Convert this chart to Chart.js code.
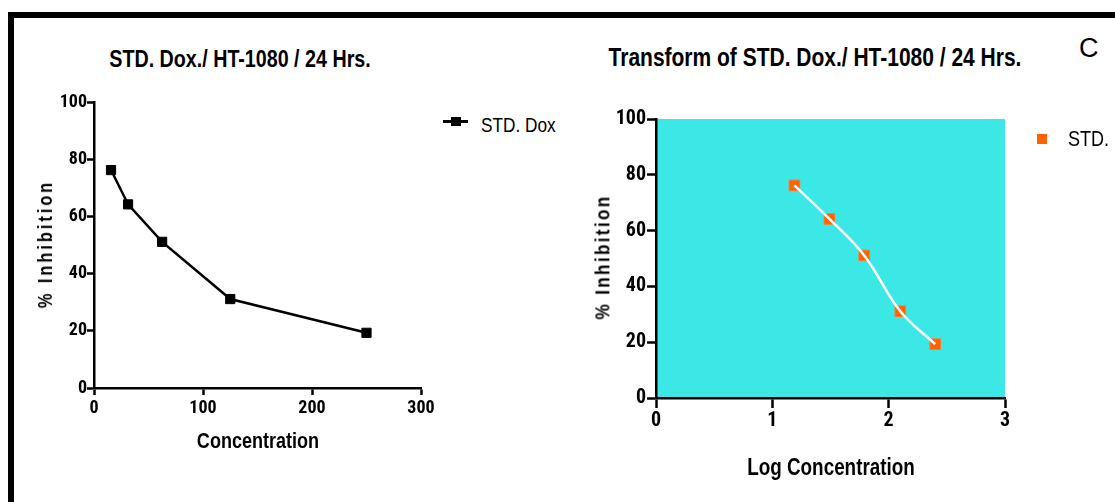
<!DOCTYPE html>
<html>
<head>
<meta charset="utf-8">
<title>STD. Dox / HT-1080</title>
<script src="https://cdn.jsdelivr.net/npm/chart.js@4.4.1/dist/chart.umd.min.js"></script>
<style>
  html, body { margin: 0; padding: 0; background: #fff; }
  #page {
    position: relative; width: 1115px; height: 502px; overflow: hidden;
    font-family: 'Liberation Sans', Arial, sans-serif;
    color: #000;
  }
  .frame {
    position: absolute; left: 8px; top: 12px; right: 0; bottom: 0;
    border-top: 6px solid #000; border-left: 6px solid #000;
  }
  canvas { position: absolute; }
  /* Arial Narrow look: regular Liberation Sans squeezed horizontally */
  .txt {
    position: absolute; white-space: nowrap; line-height: 1.2; font-weight: bold;
    transform: translate(-50%, -50%) scaleX(0.82);
  }
  .vert { transform: translate(-50%, -50%) rotate(-90deg) scaleX(0.82); }
  .legend {
    position: absolute; white-space: nowrap; line-height: 1.2;
    transform-origin: 0 50%; transform: translateY(-50%) scaleX(0.82);
  }
  .sym { position: absolute; }
  .panel-letter {
    position: absolute; left: 1079px; top: 35px; font-size: 27px; line-height: 27px;
  }
</style>
</head>
<body>
<div id="page">
  <div class="frame"></div>

  <div class="txt" style="left:240px; top:59px; font-size:24px;">STD. Dox./ HT-1080 / 24 Hrs.</div>
  <div class="txt" style="left:815px; top:57px; font-size:25.6px;">Transform of STD. Dox./ HT-1080 / 24 Hrs.</div>
  <div class="panel-letter">C</div>

  <canvas id="doseCurve" width="420" height="390" style="left:20px; top:80px;"></canvas>
  <canvas id="logCurve" width="545" height="420" style="left:570px; top:80px;"></canvas>

  <div class="txt vert" style="left:45px; top:244px; font-size:20px; letter-spacing:3.6px;">% Inhibition</div>
  <div class="txt" style="left:258px; top:441px; font-size:22px;">Concentration</div>
  <div class="txt vert" style="left:602px; top:257px; font-size:21px; letter-spacing:2.8px;">% Inhibition</div>
  <div class="txt" style="left:831px; top:468px; font-size:23px;">Log Concentration</div>

  <!-- legends -->
  <div class="sym" style="left:443px; top:120px; width:25px; height:3px; background:#000;"></div>
  <div class="sym" style="left:451px; top:117px; width:10px; height:9px; background:#000;"></div>
  <div class="legend" id="legendDose" style="left:481px; top:125px; font-size:21px;"></div>

  <div class="sym" style="left:1037px; top:134px; width:10px; height:10px; background:#ff6200;"></div>
  <div class="legend" id="legendLog" style="left:1068px; top:139px; font-size:22px;"></div>
</div>

<script>
// STD. Dox on HT-1080 cells, 24 h
const concentration = [15.625, 31.25, 62.5, 125, 250];
const logConcentration = [1.19, 1.49, 1.79, 2.10, 2.40];
const inhibition = [76.2, 64.2, 51.1, 31.1, 19.3];

const seriesName = 'STD. Dox';
const seriesNameShort = 'STD.';

const inhibitionTicks = [0, 20, 40, 60, 80, 100];
const concentrationTicks = [0, 100, 200, 300];
const logTicks = [0, 1, 2, 3];

// Roboto is variable width here, so the condensed keyword gives narrow digits
const TICK_FONT = "Roboto, 'Liberation Sans', sans-serif";
const TICK_WEIGHT = 'bold condensed';

// fill behind the plot area only
const plotBackground = {
  id: 'plotBackground',
  beforeDraw(chart, args, opts) {
    if (!opts.color) return;
    const { ctx, chartArea } = chart;
    ctx.save();
    ctx.fillStyle = opts.color;
    ctx.fillRect(chartArea.left, chartArea.top, chartArea.width, chartArea.height);
    ctx.restore();
  }
};

function fixedTicks(values) {
  return scale => { scale.ticks = values.map(v => ({ value: v })); };
}

function axis(opts) {
  return {
    type: 'linear',
    min: opts.min,
    max: opts.max,
    afterBuildTicks: fixedTicks(opts.ticks),
    afterFit: opts.fit,
    grid: {
      display: true,
      drawOnChartArea: false,
      color: '#000',
      tickColor: '#000',
      tickLength: opts.tickLength,
      tickWidth: 2.5
    },
    border: { display: true, color: '#000', width: 2.5 },
    ticks: {
      color: '#000',
      padding: opts.padding,
      maxRotation: 0,
      autoSkip: false,
      font: { family: TICK_FONT, weight: TICK_WEIGHT, size: opts.fontSize, lineHeight: 1.2 }
    }
  };
}

function points(xs) {
  return xs.map((x, i) => ({ x, y: inhibition[i] }));
}

new Chart(document.getElementById('doseCurve'), {
  type: 'line',
  data: {
    datasets: [{
      label: seriesName,
      data: points(concentration),
      borderColor: '#000',
      backgroundColor: '#000',
      borderWidth: 2.5,
      pointStyle: 'rect',
      pointRadius: 6.5,
      pointBorderWidth: 1,
      tension: 0
    }]
  },
  options: {
    responsive: false,
    animation: false,
    layout: { padding: { top: 22, right: 19, bottom: 0, left: 0 } },
    plugins: { legend: { display: false }, tooltip: { enabled: false } },
    scales: {
      x: axis({ min: 0, max: 300, ticks: concentrationTicks, tickLength: 7, padding: 3, fontSize: 18,
                fit: s => { s.height = 82; } }),
      y: axis({ min: 0, max: 100, ticks: inhibitionTicks, tickLength: 7, padding: 0, fontSize: 18,
                fit: s => { s.width = 74; } })
    }
  }
});

new Chart(document.getElementById('logCurve'), {
  type: 'line',
  data: {
    datasets: [{
      // fitted curve, drawn over the markers
      label: 'fit',
      data: points(logConcentration),
      borderColor: '#fff',
      borderWidth: 2.5,
      pointRadius: 0,
      tension: 0.4
    }, {
      label: seriesNameShort,
      data: points(logConcentration),
      showLine: false,
      backgroundColor: '#ff6200',
      borderColor: '#ff7a30',
      pointStyle: 'rect',
      pointRadius: 7.5,
      pointBorderWidth: 1
    }]
  },
  options: {
    responsive: false,
    animation: false,
    layout: { padding: { top: 39, right: 110, bottom: 0, left: 0 } },
    plugins: {
      legend: { display: false },
      tooltip: { enabled: false },
      plotBackground: { color: '#3ce8e6' }
    },
    scales: {
      x: axis({ min: 0, max: 3, ticks: logTicks, tickLength: 10, padding: 1, fontSize: 20,
                fit: s => { s.height = 102; } }),
      y: axis({ min: 0, max: 100, ticks: inhibitionTicks, tickLength: 9, padding: 1, fontSize: 20,
                fit: s => { s.width = 86; } })
    }
  },
  plugins: [plotBackground]
});

document.getElementById('legendDose').textContent = seriesName;
document.getElementById('legendLog').textContent = seriesNameShort;
</script>
</body>
</html>
